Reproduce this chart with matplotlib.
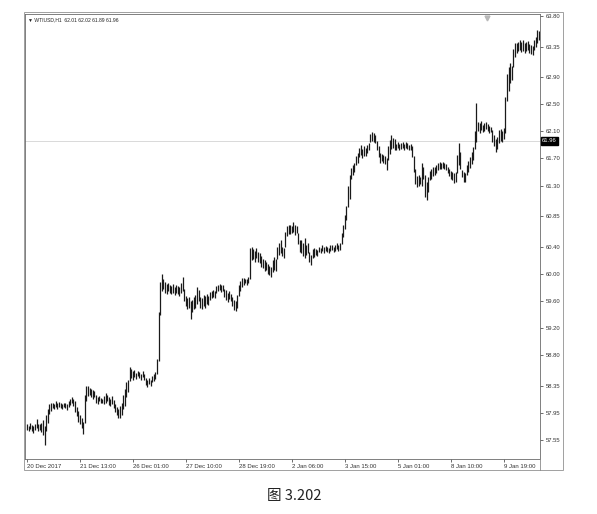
import numpy as np
import matplotlib
matplotlib.use("Agg")
import matplotlib.pyplot as plt
import matplotlib.transforms as mtransforms
from matplotlib.patches import Rectangle
from matplotlib.lines import Line2D

# WTIUSD H1 bars (low / high of each bar)
lo = [
    57.70, 57.68, 57.71, 57.69, 57.66, 57.70, 57.72, 57.68, 57.70, 57.67,
    57.62, 57.48, 57.68, 57.80, 57.94, 57.98,
    58.02, 58.00, 58.03, 58.01, 58.04, 58.02, 58.00, 58.03, 58.02, 57.99, 58.03,
    58.06, 58.09, 58.05, 57.96, 57.90, 57.82, 57.78, 57.72, 57.64, 57.80, 58.12,
    58.20, 58.22, 58.18, 58.16, 58.19, 58.10, 58.08, 58.12, 58.09, 58.10, 58.08,
    58.10, 58.12, 58.06, 58.05, 58.08, 58.02, 57.96, 57.92, 57.87,
    57.88, 57.92, 58.00, 58.05, 58.18, 58.26, 58.42, 58.46,
    58.44, 58.48, 58.45, 58.50, 58.46, 58.44, 58.48, 58.43,
    58.36, 58.33, 58.38, 58.35, 58.40, 58.42, 58.45,
    58.52, 58.72, 59.40, 59.75, 59.78, 59.72, 59.70, 59.75, 59.72,
    59.70, 59.72, 59.69, 59.71, 59.70, 59.68, 59.72, 59.74,
    59.60, 59.52, 59.48, 59.50, 59.33, 59.44, 59.48, 59.50, 59.55, 59.60,
    59.50, 59.48, 59.52, 59.50, 59.55, 59.54, 59.62, 59.64, 59.66, 59.64,
    59.72, 59.74, 59.76, 59.73, 59.75, 59.66, 59.62, 59.59, 59.63, 59.60,
    59.52, 59.47, 59.45, 59.50, 59.68, 59.74, 59.80, 59.84, 59.86, 59.84, 59.87,
    59.92, 60.20, 60.22, 60.18, 60.24, 60.17,
    60.16, 60.10, 60.08, 60.04, 60.06, 60.00, 59.98, 59.95,
    60.02, 60.06, 60.04, 60.22, 60.28, 60.30, 60.26, 60.24,
    60.40, 60.56, 60.58, 60.58, 60.60, 60.62, 60.57, 60.60, 60.44, 60.32,
    60.30, 60.26, 60.23, 60.28, 60.30, 60.18, 60.13, 60.23, 60.25, 60.28, 60.26,
    60.32, 60.30, 60.33, 60.31, 60.34, 60.32, 60.30, 60.33, 60.35, 60.32,
    60.34, 60.36, 60.33, 60.35,
    60.44, 60.55, 60.66, 60.80, 60.98, 61.10, 61.40, 61.45, 61.50, 61.60, 61.64,
    61.72, 61.75, 61.71, 61.74, 61.73, 61.78, 61.82, 61.94, 61.96, 61.95, 61.93,
    61.82, 61.72, 61.64, 61.66, 61.63, 61.62, 61.53, 61.68, 61.76, 61.84, 61.86, 61.83,
    61.83, 61.85, 61.82, 61.84, 61.86, 61.83, 61.85, 61.84, 61.82, 61.83,
    61.72, 61.50, 61.32, 61.28, 61.30, 61.32, 61.30, 61.40, 61.13, 61.09, 61.20,
    61.38, 61.40, 61.44, 61.46, 61.48, 61.53, 61.55, 61.54, 61.56, 61.55, 61.53,
    61.48, 61.44, 61.40, 61.38, 61.34, 61.36, 61.48, 61.60, 61.55, 61.42, 61.36, 61.35,
    61.45, 61.50, 61.56, 61.62, 61.68, 61.84, 61.95,
    62.10, 62.08, 62.12, 62.09, 62.11, 62.14, 62.10, 62.08, 62.09,
    61.95, 61.88, 61.80, 61.84, 61.93, 61.96, 61.94, 61.98,
    62.08, 62.55, 62.70, 62.81, 62.85, 63.05, 63.20,
    63.26, 63.28, 63.30, 63.27, 63.29, 63.25, 63.28, 63.30, 63.26, 63.24,
    63.22, 63.30, 63.34, 63.40, 63.45,
]
hi = [
    57.78, 57.76, 57.80, 57.77, 57.75, 57.79, 57.86, 57.78, 57.79, 57.80,
    57.84, 57.76, 57.92, 58.00, 58.08, 58.10,
    58.10, 58.08, 58.12, 58.09, 58.11, 58.10, 58.08, 58.10, 58.09, 58.08, 58.12,
    58.16, 58.18, 58.15, 58.12, 58.04, 57.98, 57.92, 57.88, 57.82, 58.22, 58.34,
    58.35, 58.32, 58.30, 58.28, 58.27, 58.22, 58.18, 58.20, 58.17, 58.16, 58.20,
    58.24, 58.22, 58.18, 58.15, 58.20, 58.14, 58.08, 58.04, 58.00,
    58.05, 58.10, 58.22, 58.30, 58.40, 58.44, 58.63, 58.60,
    58.56, 58.58, 58.54, 58.57, 58.55, 58.53, 58.56, 58.52,
    58.46, 58.44, 58.47, 58.43, 58.50, 58.52, 58.55,
    58.74, 59.44, 59.88, 59.99, 59.92, 59.88, 59.85, 59.86, 59.84,
    59.82, 59.85, 59.80, 59.83, 59.82, 59.80, 59.86, 59.95,
    59.78, 59.68, 59.64, 59.66, 59.60, 59.62, 59.66, 59.69, 59.80, 59.76,
    59.66, 59.64, 59.69, 59.67, 59.70, 59.68, 59.73, 59.74, 59.76, 59.75,
    59.82, 59.84, 59.85, 59.83, 59.84, 59.78, 59.76, 59.72, 59.74, 59.70,
    59.66, 59.62, 59.60, 59.69, 59.84, 59.90, 59.94, 59.94, 59.93, 59.92, 59.96,
    60.38, 60.40, 60.36, 60.34, 60.38, 60.32,
    60.30, 60.26, 60.22, 60.20, 60.18, 60.15, 60.12, 60.10,
    60.20, 60.25, 60.22, 60.40, 60.46, 60.50, 60.40, 60.38,
    60.62, 60.70, 60.72, 60.72, 60.70, 60.76, 60.72, 60.70, 60.60, 60.50,
    60.50, 60.46, 60.53, 60.42, 60.45, 60.32, 60.28, 60.36, 60.38, 60.37, 60.35,
    60.40, 60.38, 60.42, 60.39, 60.41, 60.40, 60.38, 60.42, 60.43, 60.40,
    60.42, 60.45, 60.43, 60.46,
    60.60, 60.72, 60.86, 61.00, 61.30, 61.46, 61.56, 61.60, 61.63, 61.74, 61.78,
    61.86, 61.90, 61.84, 61.88, 61.86, 61.90, 61.93, 62.06, 62.09, 62.07, 62.04,
    61.96, 61.88, 61.78, 61.76, 61.75, 61.74, 61.70, 61.88, 61.97, 62.05, 62.00, 61.98,
    61.92, 61.94, 61.91, 61.93, 61.95, 61.92, 61.94, 61.93, 61.90, 61.92,
    61.88, 61.74, 61.55, 61.44, 61.46, 61.42, 61.63, 61.58, 61.45, 61.35, 61.42,
    61.52, 61.55, 61.57, 61.58, 61.60, 61.63, 61.65, 61.64, 61.65, 61.63, 61.62,
    61.57, 61.55, 61.52, 61.50, 61.48, 61.50, 61.75, 61.93, 61.80, 61.53, 61.50, 61.48,
    61.60, 61.66, 61.72, 61.80, 61.87, 62.10, 62.52,
    62.24, 62.22, 62.26, 62.20, 62.22, 62.24, 62.21, 62.18, 62.16,
    62.12, 62.05, 61.98, 62.02, 62.12, 62.14, 62.10, 62.15,
    62.61, 62.95, 63.05, 63.11, 63.06, 63.32, 63.40,
    63.40, 63.42, 63.44, 63.41, 63.45, 63.40, 63.42, 63.43, 63.39, 63.38,
    63.36, 63.45, 63.49, 63.60, 63.58,
]

price_ticks = [63.80, 63.35, 62.90, 62.50, 62.10, 61.70, 61.30, 60.85,
               60.40, 60.00, 59.60, 59.20, 58.80, 58.35, 57.95, 57.55]
time_pos = [0, 33, 66, 99, 132, 165, 198, 231, 264, 297]
time_labels = ["20 Dec 2017", "21 Dec 13:00", "26 Dec 01:00", "27 Dec 10:00",
               "28 Dec 19:00", "2 Jan 06:00", "3 Jan 15:00", "5 Jan 01:00",
               "8 Jan 10:00", "9 Jan 19:00"]
last_price = 61.96
header = "\u25bc WTIUSD,H1  62.01 62.02 61.89 61.96"
caption = "图 3.202"

W, H = 597, 514
fig = plt.figure(figsize=(W / 100, H / 100), dpi=100)
ax = fig.add_axes([25 / W, 1 - 459 / H, 515 / W, 445 / H])

n = min(len(lo), len(hi))
x = np.arange(n)
ax.vlines(x, lo[:n], hi[:n], color="#1a1a1a", linewidth=0.9)
ax.set_xlim(-1.2, 319.6)
ax.set_ylim(57.27, 63.83)

# bid line
ax.axhline(last_price, color="#d9d9d9", lw=0.7, zorder=0)

small = ["Liberation Sans", "DejaVu Sans"]
ax.yaxis.tick_right()
ax.set_yticks(price_ticks)
ax.set_yticklabels([f"{v:.2f}" for v in price_ticks], family=small)
ax.tick_params(axis="y", direction="out", length=2.5, width=0.6, pad=1.5,
               labelsize=4.2, colors="#555", labelcolor="#333")
ax.set_xticks(time_pos)
ax.set_xticklabels(time_labels, ha="left", family=small)
ax.tick_params(axis="x", direction="out", length=2.5, width=0.6, pad=0.8,
               labelsize=4.3, colors="#555", labelcolor="#333")
for s in ax.spines.values():
    s.set_color("#6a6a6a")
    s.set_linewidth(0.6)

blend = mtransforms.blended_transform_factory(ax.transAxes, ax.transData)
ax.text(1.004, last_price, f"{last_price:.2f}", transform=blend, color="white",
        fontsize=4.2, family=small, va="center", ha="left",
        bbox=dict(boxstyle="square,pad=0.2", fc="black", ec="black"))

ax.text(0.005, 0.993, header, transform=ax.transAxes, fontsize=3.6,
        family=small, va="top", ha="left", color="#222")
ax.plot([0.897], [0.99], marker="v", color="#b8b8b8", markersize=3.5,
        transform=ax.transAxes, clip_on=False)

# chart window frame
fig.patches.append(Rectangle((24 / W, 1 - 470 / H), (563 - 24) / W, (470 - 12) / H,
                             transform=fig.transFigure, fill=False,
                             ec="#a0a0a0", lw=0.7))
fig.lines.append(Line2D([540 / W, 540 / W], [1 - 470 / H, 1 - 459 / H],
                        transform=fig.transFigure, color="#8a8a8a", lw=0.6))

fig.text(294 / W, 1 - 496 / H, caption, fontsize=10.5, ha="center", va="center",
         family=["Noto Sans CJK SC", "DejaVu Sans"], color="#222")

fig.savefig("out.png", dpi=100)
